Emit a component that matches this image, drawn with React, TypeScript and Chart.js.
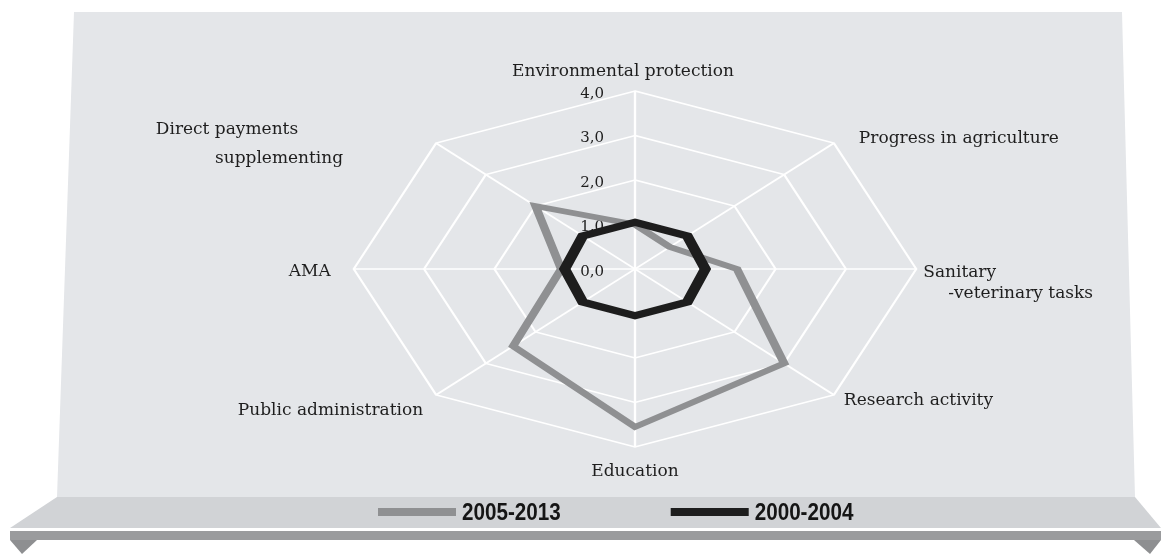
import React, { useEffect, useRef } from "react";
import { Chart, registerables } from "chart.js";

Chart.register(...registerables);

// ---------- data ----------
const categoryLines: string[][] = [
  ["Environmental protection"],
  ["Progress in agriculture"],
  ["Sanitary", "-veterinary tasks"],
  ["Research activity"],
  ["Education"],
  ["Public administration"],
  ["AMA"],
  ["Direct payments", "supplementing"],
];
const categories = categoryLines.map((l) => l.join(" "));
const series2005_2013 = [1.0, 0.7, 1.45, 3.0, 3.55, 2.45, 1.05, 2.0];
const series2000_2004 = [1.05, 1.05, 1.0, 1.05, 1.05, 1.05, 1.0, 1.05];
const seriesNames = ["2005-2013", "2000-2004"];
const tickValues = [0, 1, 2, 3, 4];

// ---------- styling ----------
const SX = 1.58; // horizontal stretch of the radar as in the original figure
const LABEL_FONT = '17px "DejaVu Serif", "Liberation Serif", serif';
const TICK_FONT = '15px "DejaVu Serif", "Liberation Serif", serif';
const LEGEND_FONT = 'bold 24px "Liberation Sans", "DejaVu Sans", sans-serif';
const LEGEND_CONDENSE = 0.86;
// per label: alignment and per-line offsets from the outer vertex
const LABEL_LAYOUT: { align: CanvasTextAlign; lines: [number, number][] }[] = [
  { align: "center", lines: [[-12, -19]] },
  { align: "left", lines: [[25, -5]] },
  { align: "left", lines: [[7, 4], [32, 25]] },
  { align: "left", lines: [[10, 6]] },
  { align: "center", lines: [[0, 25]] },
  { align: "right", lines: [[-13, 16]] },
  { align: "right", lines: [[-23, 3]] },
  { align: "right", lines: [[-138, -14], [-93, 15]] },
];

function drawBackground(ctx: CanvasRenderingContext2D) {
  ctx.save();
  // panel
  ctx.fillStyle = "#e4e6e9";
  ctx.beginPath();
  ctx.moveTo(74, 12);
  ctx.lineTo(1122, 12);
  ctx.lineTo(1135, 497);
  ctx.lineTo(57, 497);
  ctx.closePath();
  ctx.fill();
  // shelf
  ctx.fillStyle = "#d1d3d6";
  ctx.beginPath();
  ctx.moveTo(57, 497);
  ctx.lineTo(1135, 497);
  ctx.lineTo(1161, 528);
  ctx.lineTo(10, 528);
  ctx.closePath();
  ctx.fill();
  // strip
  ctx.fillStyle = "#9a9b9d";
  ctx.fillRect(10, 531, 1151, 9);
  // feet
  ctx.fillStyle = "#8e8f91";
  ctx.beginPath();
  ctx.moveTo(10, 540);
  ctx.lineTo(37, 540);
  ctx.lineTo(22, 554);
  ctx.closePath();
  ctx.fill();
  ctx.beginPath();
  ctx.moveTo(1134, 540);
  ctx.lineTo(1161, 540);
  ctx.lineTo(1150, 554);
  ctx.closePath();
  ctx.fill();
  ctx.restore();
}

const stretchPlugin = {
  id: "stretchRadar",
  beforeDraw(chart: any) {
    const ctx: CanvasRenderingContext2D = chart.ctx;
    drawBackground(ctx);
    const s = chart.scales.r;
    ctx.save();
    ctx.translate(s.xCenter, 0);
    ctx.scale(SX, 1);
    ctx.translate(-s.xCenter, 0);
  },
  beforeDatasetsDraw(chart: any) {
    const ctx: CanvasRenderingContext2D = chart.ctx;
    const s = chart.scales.r;
    const dpr = chart.currentDevicePixelRatio || 1;
    ctx.save();
    ctx.setTransform(dpr, 0, 0, dpr, 0, 0);
    ctx.fillStyle = "#1e1e1e";
    ctx.textBaseline = "middle";
    // point labels
    ctx.font = LABEL_FONT;
    categoryLines.forEach((lines, i) => {
      const p = s.getPointPosition(i, s.drawingArea);
      const vx = s.xCenter + (p.x - s.xCenter) * SX;
      const vy = p.y;
      const lay = LABEL_LAYOUT[i];
      ctx.textAlign = lay.align;
      lines.forEach((t, j) => {
        const off = lay.lines[j] || lay.lines[0];
        ctx.fillText(t, vx + off[0], vy + off[1]);
      });
    });
    // tick labels
    ctx.font = TICK_FONT;
    ctx.textAlign = "right";
    s.ticks.forEach((t: any) => {
      const d = s.getDistanceFromCenterForValue(t.value);
      ctx.fillText(t.value.toFixed(1).replace(".", ","), s.xCenter - 31, s.yCenter - d + 3);
    });
    ctx.restore();
  },
  afterDraw(chart: any) {
    const ctx: CanvasRenderingContext2D = chart.ctx;
    ctx.restore();
    // legend
    ctx.save();
    ctx.font = LEGEND_FONT;
    ctx.textBaseline = "middle";
    ctx.textAlign = "left";
    const y = 512;
    let x = 378;
    chart.data.datasets.forEach((ds: any) => {
      ctx.fillStyle = ds.borderColor;
      ctx.fillRect(x, y - 4, 78, 8);
      x += 84;
      ctx.fillStyle = "#151515";
      ctx.save();
      ctx.translate(x, y + 1);
      ctx.scale(LEGEND_CONDENSE, 1);
      ctx.fillText(ds.label, 0, 0);
      ctx.restore();
      x += ctx.measureText(ds.label).width * LEGEND_CONDENSE + 110;
    });
    ctx.restore();
  },
};

export default function App() {
  const canvasRef = useRef<HTMLCanvasElement | null>(null);

  useEffect(() => {
    document.body.style.margin = "0";
    const canvas = canvasRef.current;
    if (!canvas) return;
    const chart = new Chart(canvas, {
      type: "radar",
      data: {
        labels: categories,
        datasets: [
          {
            label: seriesNames[0],
            data: series2005_2013,
            borderColor: "#8f9092",
            backgroundColor: "rgba(0,0,0,0)",
            borderWidth: 5.5,
            fill: false,
            pointRadius: 0,
            pointHoverRadius: 0,
            borderJoinStyle: "miter",
            clip: false,
            order: 1,
          } as any,
          {
            label: seriesNames[1],
            data: series2000_2004,
            borderColor: "#1d1d1d",
            backgroundColor: "rgba(0,0,0,0)",
            borderWidth: 7,
            fill: false,
            pointRadius: 0,
            pointHoverRadius: 0,
            borderJoinStyle: "miter",
            clip: false,
            order: 0,
          } as any,
        ],
      },
      options: {
        animation: false,
        responsive: true,
        maintainAspectRatio: false,
        events: [],
        layout: { padding: { top: 91, bottom: 107, left: 335, right: 232 } },
        plugins: { legend: { display: false }, tooltip: { enabled: false } },
        scales: {
          r: {
            min: 0,
            max: 4,
            afterBuildTicks: (scale: any) => {
              scale.ticks = tickValues.map((v) => ({ value: v }));
            },
            ticks: { display: false, stepSize: 1 },
            pointLabels: { display: false },
            grid: { color: "#ffffff", lineWidth: 1.5, circular: false },
            angleLines: { color: "#ffffff", lineWidth: 1.5 },
          } as any,
        },
      },
      plugins: [stretchPlugin as any],
    });
    return () => chart.destroy();
  }, []);

  return (
    <div style={{ position: "absolute", left: 0, top: 0, width: 1167, height: 554 }}>
      <canvas ref={canvasRef} />
    </div>
  );
}
